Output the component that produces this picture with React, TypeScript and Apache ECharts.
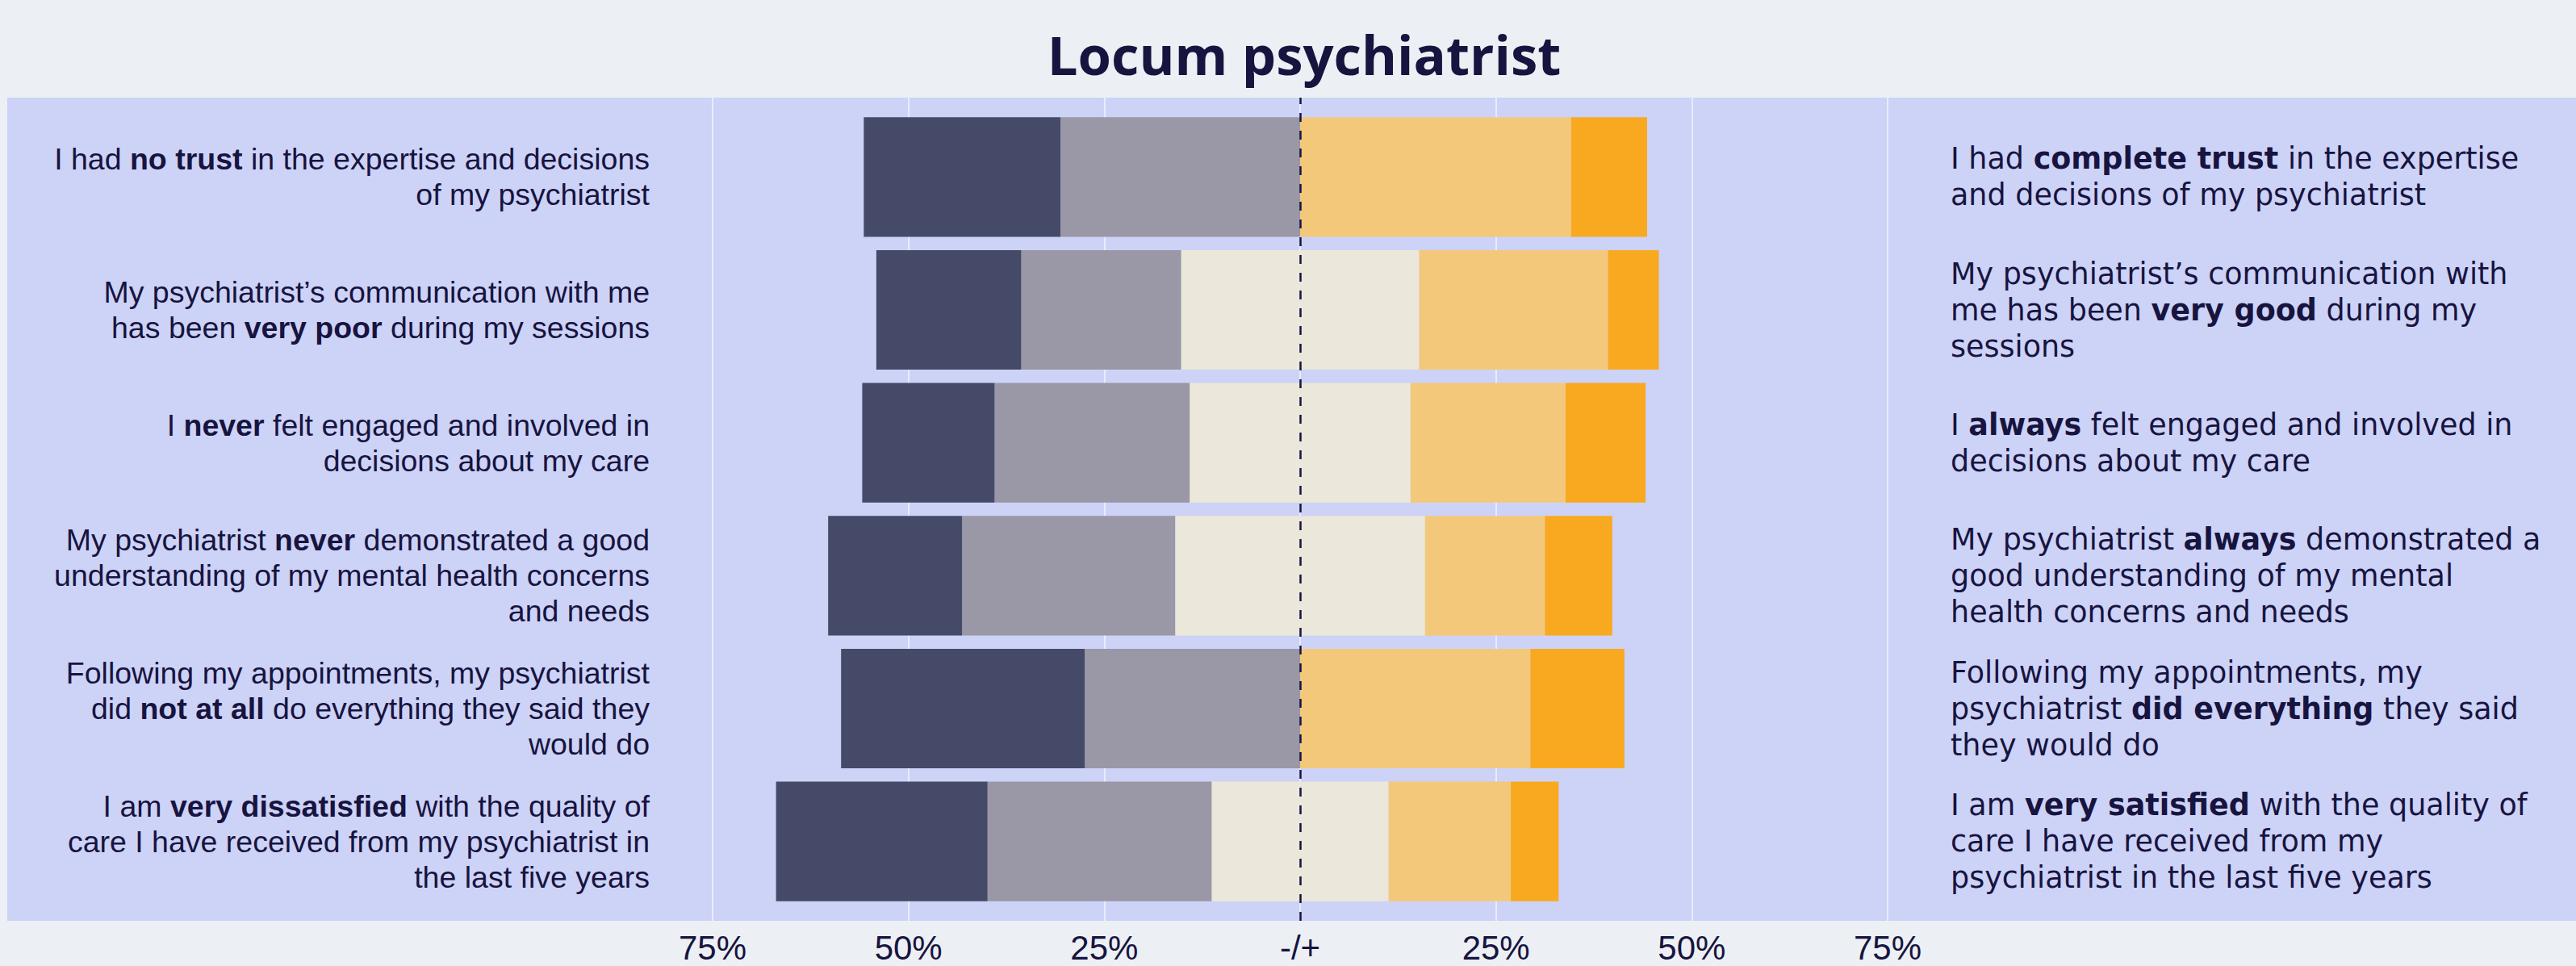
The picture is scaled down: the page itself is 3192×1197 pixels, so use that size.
import React, { useEffect, useRef } from "react";
import * as echarts from "echarts";

const leftLabels = [
  "I had {b|no trust} in the expertise and decisions\nof my psychiatrist",
  "My psychiatrist’s communication with me\nhas been {b|very poor} during my sessions",
  "I {b|never} felt engaged and involved in\ndecisions about my care",
  "My psychiatrist {b|never} demonstrated a good\nunderstanding of my mental health concerns\nand needs",
  "Following my appointments, my psychiatrist\ndid {b|not at all} do everything they said they\nwould do",
  "I am {b|very dissatisfied} with the quality of\ncare I have received from my psychiatrist in\nthe last five years",
];

const rightLabels = [
  "I had {b|complete trust} in the expertise\nand decisions of my psychiatrist",
  "My psychiatrist’s communication with\nme has been {b|very good} during my\nsessions",
  "I {b|always} felt engaged and involved in\ndecisions about my care",
  "My psychiatrist {b|always} demonstrated a\ngood understanding of my mental\nhealth concerns and needs",
  "Following my appointments, my\npsychiatrist {b|did everything} they said\nthey would do",
  "I am {b|very satisfied} with the quality of\ncare I have received from my\npsychiatrist in the last five years",
];

// Percent of respondents per answer level
const veryNegative = [25.1, 18.5, 16.9, 17.1, 31.1, 27.0];
const negative = [30.6, 20.4, 24.9, 27.2, 27.5, 28.6];
const neutral = [0, 30.4, 28.2, 31.9, 0, 22.6];
const positive = [34.6, 24.1, 19.8, 15.3, 29.4, 15.6];
const veryPositive = [9.7, 6.5, 10.2, 8.6, 12.0, 6.1];

const TITLE = "Locum psychiatrist";

const C_DARK = "#464A69";
const C_GRAY = "#9A97A6";
const C_NEUTRAL = "#EBE7DB";
const C_POS = "#F4C87A";
const C_VPOS = "#F9A91F";
const TEXT = "#17143F";

export default function App() {
  const ref = useRef<HTMLDivElement>(null);

  useEffect(() => {
    document.body.style.margin = "0";
    if (!ref.current) return;
    const chart = echarts.init(ref.current, undefined, { renderer: "svg" });

    const half = neutral.map((v) => v / 2);

    const barBase = {
      type: "bar",
      stack: "total",
      barCategoryGap: "10%",
      xAxisIndex: 1,
      yAxisIndex: 1,
      silent: true,
    };

    const leftFont = "'Liberation Sans', Arial, sans-serif";
    const rightFont = "'DejaVu Sans', sans-serif";
    const rightSize = 36.5;

    chart.setOption({
      animation: false,
      backgroundColor: "#ECF0F4",
      title: {
        text: TITLE,
        left: 1611,
        top: 28,
        textAlign: "center",
        textStyle: {
          fontFamily: "'Open Sans', sans-serif",
          fontWeight: "bold",
          fontSize: 67,
          color: TEXT,
        },
      },
      graphic: [
        {
          type: "rect",
          z: -10,
          shape: { x: 9, y: 121, width: 3183, height: 1020 },
          style: { fill: "#CDD2F7" },
          silent: true,
        },
      ],
      grid: [
        { left: 883, right: 853, top: 121, bottom: 56, containLabel: false },
        { left: 883, right: 853, top: 137, bottom: 72, containLabel: false },
      ],
      xAxis: [
        {
          gridIndex: 0,
          type: "value",
          min: -75,
          max: 75,
          interval: 25,
          axisLine: { show: false },
          axisTick: { show: false },
          splitLine: {
            show: true,
            lineStyle: { color: "rgba(255,255,255,0.75)", width: 1.5 },
          },
          axisLabel: {
            margin: 12,
            fontFamily: leftFont,
            fontSize: 42,
            color: TEXT,
            formatter: (v: number) => (v === 0 ? "-/+" : Math.abs(v) + "%"),
          },
        },
        {
          gridIndex: 1,
          type: "value",
          min: -75,
          max: 75,
          interval: 25,
          show: false,
        },
      ],
      yAxis: [
        {
          gridIndex: 0,
          type: "value",
          min: 0,
          max: 1,
          show: false,
        },
        {
          gridIndex: 1,
          type: "category",
          inverse: true,
          position: "left",
          data: leftLabels,
          axisLine: { show: false },
          axisTick: { show: false },
          splitLine: { show: false },
          axisLabel: {
            interval: 0,
            margin: 78,
            fontFamily: leftFont,
            fontSize: 37.5,
            lineHeight: 44,
            color: TEXT,
            align: "right",
            rich: {
              b: {
                fontFamily: leftFont,
                fontSize: 37.5,
                lineHeight: 44,
                fontWeight: "bold",
                color: TEXT,
              },
            },
          },
        },
        {
          gridIndex: 1,
          type: "category",
          inverse: true,
          position: "right",
          data: rightLabels,
          axisLine: { show: false },
          axisTick: { show: false },
          splitLine: { show: false },
          axisLabel: {
            interval: 0,
            margin: 78,
            fontFamily: rightFont,
            fontSize: rightSize,
            lineHeight: 45,
            color: TEXT,
            align: "left",
            rich: {
              b: {
                fontFamily: rightFont,
                fontSize: rightSize,
                lineHeight: 45,
                fontWeight: "bold",
                color: TEXT,
              },
            },
          },
        },
      ],
      series: [
        {
          ...barBase,
          name: "Neutral (left half)",
          data: half.map((v) => -v),
          itemStyle: { color: C_NEUTRAL },
        },
        {
          ...barBase,
          name: "Negative",
          data: negative.map((v) => -v),
          itemStyle: { color: C_GRAY },
        },
        {
          ...barBase,
          name: "Very negative",
          data: veryNegative.map((v) => -v),
          itemStyle: { color: C_DARK },
        },
        {
          ...barBase,
          name: "Neutral (right half)",
          data: half,
          itemStyle: { color: C_NEUTRAL },
        },
        {
          ...barBase,
          name: "Positive",
          data: positive,
          itemStyle: { color: C_POS },
        },
        {
          ...barBase,
          name: "Very positive",
          data: veryPositive,
          itemStyle: { color: C_VPOS },
        },
        {
          type: "line",
          name: "Midpoint",
          xAxisIndex: 0,
          yAxisIndex: 0,
          data: [],
          silent: true,
          z: 10,
          markLine: {
            silent: true,
            symbol: ["none", "none"],
            label: { show: false },
            z: 10,
            lineStyle: { type: [11, 11], color: TEXT, width: 2.5 },
            data: [{ xAxis: 0 }],
          },
        },
      ],
    });

    return () => chart.dispose();
  }, []);

  return <div ref={ref} style={{ width: 3192, height: 1197 }} />;
}
